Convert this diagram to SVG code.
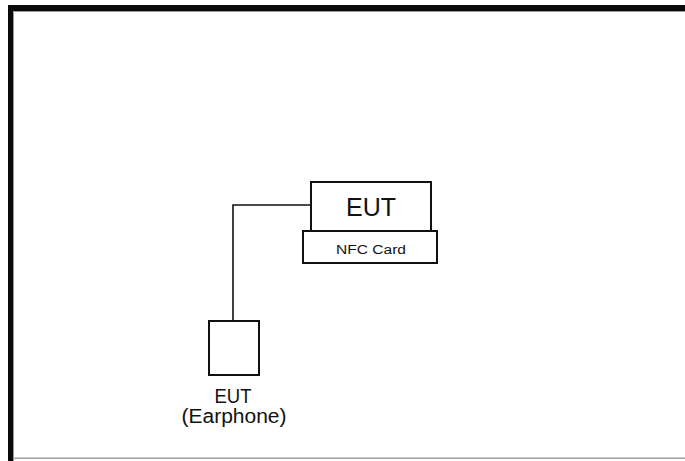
<svg xmlns="http://www.w3.org/2000/svg" width="685" height="461" viewBox="0 0 685 461">
<style>
.box{fill:#fff;stroke:#111;stroke-width:2}
.wire{fill:none;stroke:#111;stroke-width:1.6}
.t{font-family:"Liberation Sans",Arial,sans-serif;fill:#111;text-anchor:middle}
</style>
<rect width="685" height="461" fill="#fff"/>
<g id="frame">
<rect x="8" y="5" width="677" height="6" fill="#0a0a0a"/>
<rect x="8" y="5" width="5" height="456" fill="#0a0a0a"/>
<rect x="13" y="11" width="672" height="1" fill="#9a9a9a"/>
<rect x="13" y="11" width="1" height="450" fill="#9a9a9a"/>
<rect x="13" y="457.5" width="672" height="1.5" fill="#a0a0a0"/>
</g>
<g id="connectors">
<polyline class="wire" points="311,205 233,205 233,321"/>
</g>
<g id="eut-main">
<rect class="box" x="311" y="182" width="120" height="50"/>
<text class="t" x="371" y="216" font-size="25">EUT</text>
</g>
<g id="nfc-card">
<rect class="box" x="303" y="231" width="134" height="32"/>
<text class="t" x="371" y="254" font-size="12.5" textLength="70" lengthAdjust="spacingAndGlyphs">NFC Card</text>
</g>
<g id="eut-earphone">
<rect class="box" x="209" y="321" width="50" height="54"/>
<text class="t" x="233" y="403" font-size="19.5" textLength="37" lengthAdjust="spacingAndGlyphs">EUT</text>
<text class="t" x="234" y="423" font-size="19.5" textLength="105" lengthAdjust="spacingAndGlyphs">(Earphone)</text>
</g>
</svg>
